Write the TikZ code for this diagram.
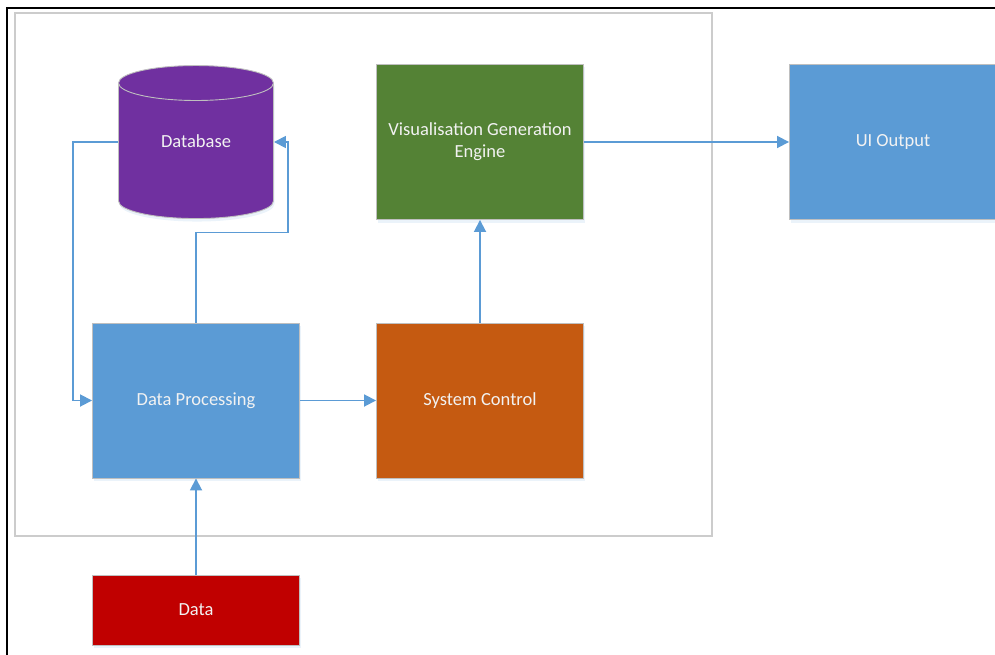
\documentclass[tikz,border=0pt]{standalone}
\usepackage{fontspec}
\setmainfont{Carlito}
\usetikzlibrary{arrows.meta,shapes.geometric,shadows}

\definecolor{boxblue}{HTML}{5B9BD5}
\definecolor{boxgreen}{HTML}{548235}
\definecolor{boxorange}{HTML}{C55A11}
\definecolor{boxred}{HTML}{C00000}
\definecolor{boxpurple}{HTML}{7030A0}
\definecolor{boxline}{HTML}{BFBFBF}
\definecolor{linkblue}{HTML}{5B9BD5}

\tikzset{
  block/.style={rectangle, draw=boxline, line width=0.9pt, minimum width=207pt,
    minimum height=155pt, inner sep=0pt, align=center, text=white!95!black,
    font=\fontsize{18.5}{22}\selectfont,
    drop shadow={opacity=0.12, shadow xshift=1pt, shadow yshift=-3pt, fill=linkblue}},
  link/.style={draw=linkblue, line width=1.8pt, -{Triangle[length=12pt,width=12pt]}}
}

\begin{document}
\begin{tikzpicture}[x=1pt,y=-1pt]
	\useasboundingbox (0,0) rectangle (995,655);
	%\draw[help lines] (0,0) grid[step=50] (995,655);
	\draw[line width=2pt] (7,660) -- (7,8) -- (1000,8);
	\draw[boxline!80, line width=1.3pt] (15,13) rectangle (712,536);
	\node[block, cylinder, shape border rotate=90, aspect=0.5, fill=boxpurple,
	      minimum width=155pt, minimum height=153pt] (db) at (196,151)
	      {\raisebox{3pt}[0pt][0pt]{Database}};
	\node[block, fill=boxgreen] (viz) at (480,142) {Visualisation Generation\\Engine};
	\node[block, fill=boxblue] (ui) at (893,142) {UI Output};
	\node[block, fill=boxblue] (dp) at (196,400.5) {Data Processing};
	\node[block, fill=boxorange] (sc) at (480,400.5) {System Control};
	\node[block, fill=boxred, minimum height=70pt] (data) at (196,610) {Data};
	% connectors
	\draw[link] ([yshift=9pt]db.west) -- ++(-45,0) |- (dp.west);
	\draw[link] (dp.north) -- ++(0,-90) -| ([xshift=14pt,yshift=9pt]db.east) -- ([yshift=9pt]db.east);
	\draw[link] (dp.east) -- (sc.west);
	\draw[link] (sc.north) -- (viz.south);
	\draw[link] (viz.east) -- (ui.west);
	\draw[link] (data.north) -- (dp.south);
\end{tikzpicture}
\end{document}
